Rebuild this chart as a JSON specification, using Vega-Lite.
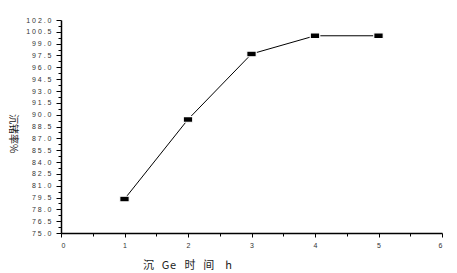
{
  "$schema": "https://vega.github.io/schema/vega-lite/v6.json",
  "width": 381,
  "height": 213,
  "autosize": {"type": "none"},
  "padding": {"left": 61, "top": 20, "right": 15, "bottom": 40},
  "background": "white",
  "config": {"view": {"stroke": null}},
  "data": {"values": [
    {"t": 1, "r": 79.3},
    {"t": 2, "r": 89.4},
    {"t": 3, "r": 97.7},
    {"t": 4, "r": 100.0},
    {"t": 5, "r": 100.0}
  ]},
  "layer": [
    {
      "mark": {"type": "line", "color": "black", "strokeWidth": 1},
      "encoding": {
        "x": {"field": "t", "type": "quantitative", "scale": {"domain": [0, 6], "nice": false},
          "axis": {"orient": "bottom", "values": [0,1,2,3,4,5,6], "grid": false, "domainColor": "black", "domainWidth": 1.5, "tickColor": "black", "tickSize": 4, "labelFont": "Liberation Sans", "labelFontSize": 7, "labelColor": "#333", "labelPadding": 4,
            "title": "沉\u2002\u2009G\u200ae\u2002\u2009\u200a时\u2002\u2009间\u2002\u2002h", "titleFont": "Noto Sans CJK SC", "titleFontSize": 11, "titleFontWeight": "normal", "titleColor": "#222", "titleX": 126, "titleY": 35, "titleAlign": "center", "titleBaseline": "alphabetic"}},
        "y": {"field": "r", "type": "quantitative", "scale": {"domain": [75, 102], "nice": false, "zero": false},
          "axis": {"orient": "left", "values": [75,76.5,78,79.5,81,82.5,84,85.5,87,88.5,90,91.5,93,94.5,96,97.5,99,100.5,102], "grid": false, "domainColor": "black", "domainWidth": 1.5, "tickColor": "black", "tickSize": 5, "labelFont": "Liberation Sans", "labelFontSize": 7, "labelColor": "#333", "labelPadding": 5,
            "labelExpr": "replace(format(datum.value, '.1f'), regexp('(.)(?!$)', 'g'), '$1 ')",
            "title": "沉锗率%", "titleFont": "Noto Sans CJK SC", "titleFontSize": 10, "titleFontWeight": "normal", "titleColor": "#222", "titleAngle": 90, "titleX": -49, "titleY": 113, "titleAlign": "center", "titleBaseline": "middle"}}
      }
    },
    {
      "mark": {"type": "point", "shape": "M-1,-0.6H1V0.6H-1Z", "size": 90, "filled": true, "fill": "black", "stroke": "white", "strokeWidth": 1.2, "opacity": 1},
      "encoding": {
        "x": {"field": "t", "type": "quantitative",
          "axis": {"orient": "bottom", "values": [0.5,1.5,2.5,3.5,4.5,5.5], "grid": false, "domain": false, "labels": false, "tickColor": "black", "tickSize": 3, "title": null}},
        "y": {"field": "r", "type": "quantitative",
          "axis": {"orient": "left", "values": [75.75,77.25,78.75,80.25,81.75,83.25,84.75,86.25,87.75,89.25,90.75,92.25,93.75,95.25,96.75,98.25,99.75,101.25], "grid": false, "domain": false, "labels": false, "tickColor": "black", "tickSize": 3, "title": null}}
      }
    }
  ],
  "resolve": {"axis": {"x": "independent", "y": "independent"}}
}
